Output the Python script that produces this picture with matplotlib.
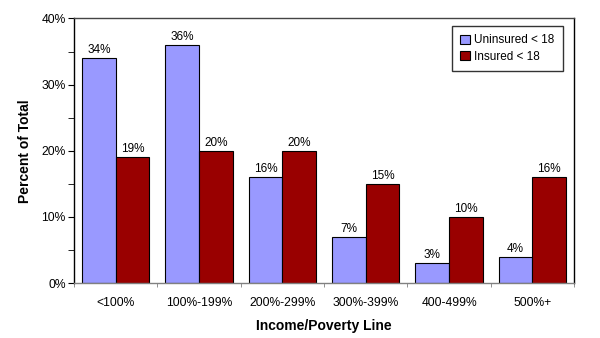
import numpy as np
import matplotlib.pyplot as plt
from matplotlib.ticker import MultipleLocator, FuncFormatter

plt.rcParams['font.family'] = ['Liberation Sans', 'DejaVu Sans']

categories = ['<100%', '100%-199%', '200%-299%', '300%-399%', '400-499%', '500%+']
uninsured = [34, 36, 16, 7, 3, 4]
insured = [19, 20, 20, 15, 10, 16]
series_names = ['Uninsured < 18', 'Insured < 18']

fig = plt.figure(figsize=(6, 3.38), dpi=100)
ax = fig.add_axes([74/600, 1 - 283/338, (574-74)/600, (283-18.5)/338])

x = np.arange(len(categories))
w = 0.405
b1 = ax.bar(x - w/2, uninsured, w, color='#9999ff', edgecolor='black', linewidth=0.8,
            label=series_names[0])
b2 = ax.bar(x + w/2, insured, w, color='#990000', edgecolor='black', linewidth=0.8,
            label=series_names[1])

for bars, vals in ((b1, uninsured), (b2, insured)):
    for r, v in zip(bars, vals):
        ax.text(r.get_x() + r.get_width()/2, v + 0.3, '%d%%' % v,
                ha='center', va='bottom', fontsize=8.5)

ax.set_xlim(-0.5, len(categories) - 0.5)
ax.set_ylim(0, 40)
ax.yaxis.set_major_locator(MultipleLocator(10))
ax.yaxis.set_minor_locator(MultipleLocator(5))
ax.yaxis.set_major_formatter(FuncFormatter(lambda v, p: '%d%%' % v))
ax.set_xticks(x)
ax.set_xticklabels(categories)
ax.set_xticks(np.arange(len(categories) + 1) - 0.5, minor=True)
ax.tick_params(axis='x', which='major', length=0, pad=10, labelsize=8.7)
ax.tick_params(axis='x', which='minor', length=3, color='gray')
ax.tick_params(axis='y', which='major', length=4, labelsize=8.7, pad=2)
ax.tick_params(axis='y', which='minor', length=4)

ax.spines['bottom'].set_color('gray')
ax.spines['top'].set_color('#444444')
for s in ax.spines.values():
    s.set_linewidth(1)

ax.set_ylabel('Percent of Total', fontsize=10, fontweight='bold', labelpad=7)
ax.set_xlabel('Income/Poverty Line', fontsize=10, fontweight='bold', labelpad=7)

leg = ax.legend(loc='upper right', bbox_to_anchor=(0.978, 0.972), borderaxespad=0,
                fontsize=8.5, frameon=True, fancybox=False, edgecolor='black',
                handlelength=0.8, handleheight=0.8, handletextpad=0.4,
                borderpad=0.7, labelspacing=0.4)
leg.get_frame().set_linewidth(1)

fig.savefig('out.png', dpi=100)
